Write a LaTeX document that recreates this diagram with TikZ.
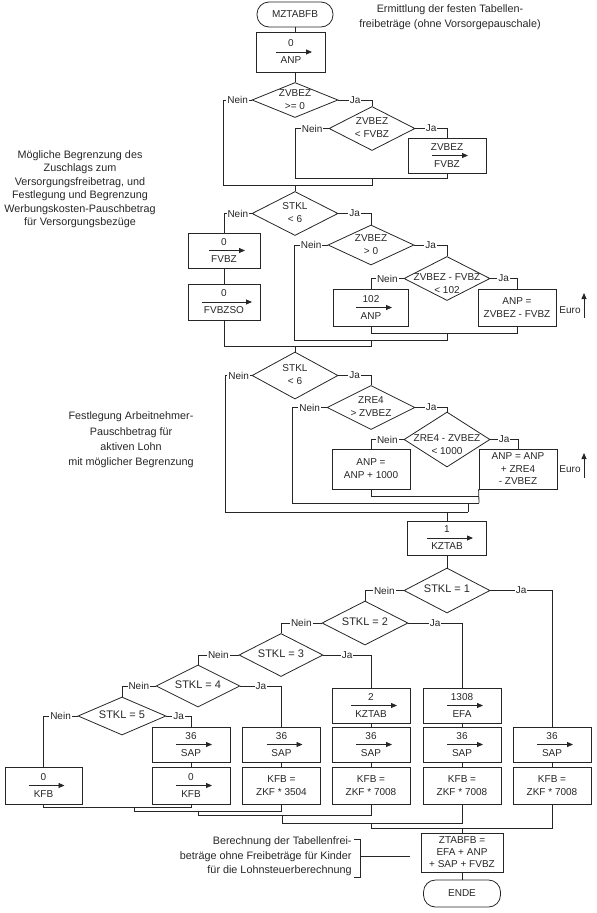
\documentclass[tikz,border=0pt]{standalone}
\usepackage{fontspec}
\setmainfont{Liberation Sans}
\usetikzlibrary{shapes.geometric,arrows.meta}

% Text in der Raute ohne eigene Groesse
\newcommand{\rautentext}[2][-2.5pt]{\makebox[0pt]{\raisebox{#1}[0pt][0pt]{\begin{tabular}{@{}c@{}}#2\end{tabular}}}}

\tikzset{
  pfeil/.style={-{Triangle[length=6pt,width=5pt]}},
  box/.style={draw, rectangle, minimum width=78pt, minimum height=35pt, inner sep=1pt, align=center, font=\fontsize{10}{13}\selectfont},
  zuw/.style={box, path picture={\draw[pfeil] ([xshift=-#1]path picture bounding box.center) -- ([xshift=#1+6pt]path picture bounding box.center);}},
  zuw/.default=15pt,
  raute/.style={draw, diamond, inner sep=0pt, minimum width=86pt, minimum height=44pt, font=\fontsize{10}{13}\selectfont},
  raute1/.style={raute, font=\fontsize{11}{13}\selectfont},
  ende/.style={draw, rectangle, rounded corners=12pt, minimum width=77pt, minimum height=27pt, font=\fontsize{10}{13}\selectfont},
  klein/.style={inner sep=1pt, font=\fontsize{10}{12}\selectfont},
  lbl/.style={klein, fill=white},
  kommentar/.style={align=center, inner sep=0pt, font=\fontsize{10.8}{13.5}\selectfont},
}

\begin{document}
\begin{tikzpicture}[x=1pt, y=-1pt, line width=0.8pt, color=black!85]
    \useasboundingbox (0,0) rectangle (597,913);
    % Kopf
    \node[ende, minimum width=76pt, minimum height=25pt] (start) at (295,14.5) {MZTABFB};
    \node[kommentar, font=\fontsize{10.8}{15}\selectfont] (k0) at (450,17.5) {Ermittlung der festen Tabellen-\\freibeträge (ohne Vorsorgepauschale)};
    \node[zuw, minimum width=69pt, minimum height=40pt] (z0) at (291,52) {0\\[4pt]ANP};
    \node[raute, minimum height=35pt] (d1) at (295,100) {\rautentext{ZVBEZ\\>= 0}};
    \node[raute] (d2) at (372,128.5) {\rautentext{ZVBEZ\\< FVBZ}};
    \node[zuw] (z1) at (447,155.5) {ZVBEZ\\[4pt]FVBZ};
    % Versorgungsbezuege
    \node[kommentar] (k1) at (80,189) {Mögliche Begrenzung des\\Zuschlags zum\\Versorgungsfreibetrag, und\\Festlegung und Begrenzung\\Werbungskosten-Pauschbetrag\\für Versorgungsbezüge};
    \node[raute] (d3) at (295,213.5) {\rautentext{STKL\\< 6}};
    \node[zuw, minimum width=72pt] (z2) at (224,250.5) {0\\[4pt]FVBZ};
    \node[zuw=22pt, minimum width=72pt, minimum height=36pt] (z3) at (224,302) {0\\[4pt]FVBZSO};
    \node[raute, minimum height=40pt] (d4) at (371,245) {\rautentext{ZVBEZ\\> 0}};
    \node[raute] (d5) at (447,278.5) {\rautentext[-8.5pt]{ZVBEZ - FVBZ\\< 102}};
    \node[zuw, minimum width=75pt, minimum height=37pt] (z4) at (371,307.5) {102\\[4pt]ANP};
    \node[box, minimum height=37pt] (z5) at (517,307.5) {ANP =\\ZVBEZ - FVBZ};
    \node[klein] (euro1) at (570,310) {Euro};
    % Arbeitnehmer-Pauschbetrag
    \node[kommentar, font=\fontsize{10.8}{15.3}\selectfont] (k2) at (131,440) {Festlegung Arbeitnehmer-\\Pauschbetrag für\\aktiven Lohn\\mit möglicher Begrenzung};
    \node[raute, minimum height=47pt] (d6) at (295,375.5) {\rautentext{STKL\\< 6}};
    \node[raute, minimum width=88pt] (d7) at (371,407.5) {\rautentext{ZRE4\\> ZVBEZ}};
    \node[raute, minimum height=55pt] (d8) at (447,439.5) {\rautentext[-8.5pt]{ZRE4 - ZVBEZ\\< 1000}};
    \node[box, minimum height=40pt] (z6) at (371,469) {ANP =\\ANP + 1000};
    \node[box, minimum height=40pt, font=\fontsize{10}{12.5}\selectfont] (z7) at (518,469) {ANP = ANP\\+ ZRE4\\- ZVBEZ};
    \node[klein] (euro2) at (570,469) {Euro};
    % Steuerklassen
    \node[zuw=20pt, minimum width=79pt, minimum height=34pt] (z8) at (447,538) {1\\[4pt]KZTAB};
    \node[raute1, minimum height=45pt] (d9) at (447,590.5) {\rautentext{STKL = 1}};
    \node[raute1] (d10) at (365,623) {\rautentext{STKL = 2}};
    \node[raute1, minimum width=84pt, minimum height=43pt] (d11) at (281,655) {\rautentext{STKL = 3}};
    \node[raute1, minimum width=84pt, minimum height=42pt] (d12) at (198,686) {\rautentext{STKL = 4}};
    \node[raute1, minimum width=88pt, minimum height=38pt] (d13) at (122,716) {\rautentext{STKL = 5}};
    \node[zuw=20pt] (kz2) at (371,705.5) {2\\[4pt]KZTAB};
    \node[zuw] (efa) at (462,705.5) {1308\\[4pt]EFA};
    \node[zuw] (a1) at (191,744.5) {36\\[4pt]SAP};
    \node[zuw] (a2) at (281.5,744.5) {36\\[4pt]SAP};
    \node[zuw] (a3) at (371,744.5) {36\\[4pt]SAP};
    \node[zuw] (a4) at (462,744.5) {36\\[4pt]SAP};
    \node[zuw] (a5) at (552,744.5) {36\\[4pt]SAP};
    \node[zuw, minimum width=77pt, minimum height=37pt] (b0) at (43.5,785.5) {0\\[4pt]KFB};
    \node[zuw, minimum height=37pt] (b1) at (191,785.5) {0\\[4pt]KFB};
    \node[box, minimum height=37pt] (b2) at (281.5,785.5) {KFB =\\ZKF * 3504};
    \node[box, minimum height=37pt] (b3) at (371,785.5) {KFB =\\ZKF * 7008};
    \node[box, minimum height=37pt] (b4) at (462,785.5) {KFB =\\ZKF * 7008};
    \node[box, minimum height=37pt] (b5) at (552,785.5) {KFB =\\ZKF * 7008};
    % Schluss
    \node[box, minimum width=82pt, minimum height=39pt, font=\fontsize{10}{12}\selectfont] (ztab) at (462,852.5) {ZTABFB =\\EFA + ANP\\+ SAP + FVBZ};
    \node[ende] (ende) at (462,893.5) {ENDE};
    \node[kommentar, align=right, anchor=east, font=\fontsize{10.8}{14.5}\selectfont] (k3) at (352,856.5) {Berechnung der Tabellenfrei-\\beträge ohne Freibeträge für Kinder\\für die Lohnsteuerberechnung};

    % Verbindungen oben
    \coordinate (m1a) at (372,178);
    \coordinate (m1b) at (295,185);
    \draw (start.south) -- (start.south |- z0.north);
    \draw (d1.north |- z0.south) -- (d1.north);
    \draw (d1.west) -- node[lbl]{Nein} ++(-28,0) |- (m1b);
    \draw (d1.east) -| node[lbl, pos=0.25]{Ja} (d2.north);
    \draw (d2.west) -- node[lbl]{Nein} ++(-33,0) |- (m1a);
    \draw (d2.east) -| node[lbl, pos=0.25]{Ja} (z1.north);
    \draw (z1.south) |- (m1a);
    \draw (m1a) |- (m1b) -- (d3.north);

    % Verbindungen Versorgungsbezuege
    \coordinate (m2a) at (447,333);
    \coordinate (m2b) at (371,340);
    \coordinate (m2c) at (295,346);
    \draw (d3.west) -| node[lbl, pos=0.25]{Nein} (z2.north);
    \draw (z2) -- (z3);
    \draw (z3.south) |- (m2c);
    \draw (d3.east) -| node[lbl, pos=0.25]{Ja} (d4.north);
    \draw (d4.west) -- node[lbl]{Nein} ++(-33,0) |- (m2b);
    \draw (d4.east) -| node[lbl, pos=0.25]{Ja} (d5.north);
    \draw (d5.west) -| node[lbl, pos=0.25]{Nein} (z4.north);
    \draw (d5.east) -| node[lbl, pos=0.25]{Ja} (z5.north);
    \draw (z4.south) |- (m2a);
    \draw (z5.south) |- (m2a);
    \draw (m2a) |- (m2b);
    \draw (m2b) |- (m2c) -- (d6.north);
    \draw[pfeil] ([xshift=14pt, yshift=-8pt]euro1.center) -- ++(0,-25);

    % Verbindungen Arbeitnehmer-Pauschbetrag
    \coordinate (m3a) at (479,496);
    \coordinate (m3b) at (479,503);
    \coordinate (m3c) at (468,512);
    \draw (d6.west) -- node[lbl]{Nein} ++(-26,0) |- (m3c);
    \draw (d6.east) -| node[lbl, pos=0.25]{Ja} (d7.north);
    \draw (d7.west) -- node[lbl]{Nein} ++(-34,0) |- (m3b);
    \draw (d7.east) -| node[lbl, pos=0.25]{Ja} (d8.north);
    \draw (d8.west) -| node[lbl, pos=0.25]{Nein} (z6.north);
    \draw (d8.east) -| node[lbl, pos=0.25]{Ja} (z7.north);
    \draw (z6.south) |- (m3a);
    \draw (z7.south west) -- (m3b);
    \draw (m3c) -- (m3c |- m3b);
    \draw (z8.north |- m3c) -- (z8.north);
    \draw[pfeil] ([xshift=14pt, yshift=-9pt]euro2.center) -- ++(0,-25);

    % Verbindungen Steuerklassen
    \draw (z8) -- (d9);
    \draw (d9.west) -| node[lbl, pos=0.25]{Nein} (d10.north);
    \draw (d9.east) -| node[lbl, pos=0.25]{Ja} (a5.north);
    \draw (d10.west) -| node[lbl, pos=0.25]{Nein} (d11.north);
    \draw (d10.east) -| node[lbl, pos=0.25]{Ja} (efa.north);
    \draw (d11.west) -| node[lbl, pos=0.25]{Nein} (d12.north);
    \draw (d11.east) -| node[lbl, pos=0.25]{Ja} (kz2.north);
    \draw (d12.west) -| node[lbl, pos=0.25]{Nein} (d13.north);
    \draw (d12.east) -| node[lbl, pos=0.25]{Ja} (a2.north);
    \draw (d13.west) -| node[lbl, pos=0.25]{Nein} (b0.north);
    \draw (d13.east) -| node[lbl, pos=0.25]{Ja} (a1.north);
    \draw (kz2) -- (a3);
    \draw (efa) -- (a4);
    \draw (a1) -- (b1);
    \draw (a2) -- (b2);
    \draw (a3) -- (b3);
    \draw (a4) -- (b4);
    \draw (a5) -- (b5);

    % Zusammenfuehrung unten
    \coordinate (n1) at (134,807);
    \coordinate (n2) at (198,811.5);
    \coordinate (n3) at (282,815);
    \coordinate (n4) at (371,823);
    \coordinate (n5) at (462,828);
    \draw (b0.south) |- (n1);
    \draw (b1.south) |- (n1);
    \draw (n1) |- (n2);
    \draw (b2.south) |- (n2);
    \draw (n2) |- (n3);
    \draw (b3.south) |- (n3);
    \draw (n3) |- (n4);
    \draw (b4.south) |- (n4);
    \draw (n4) |- (n5);
    \draw (b5.south) |- (n5);
    \draw (n5) -- (ztab);
    \draw (ztab) -- (ende);

    % Kommentar zur Berechnung
    \coordinate (kl) at (360,856);
    \draw ([shift={(-6,-17)}]kl) -- ++(6,0) -- ++(0,38) -- ++(-6,0);
    \draw[shorten >=11pt] (kl) -- (kl -| ztab.west);
\end{tikzpicture}
\end{document}
